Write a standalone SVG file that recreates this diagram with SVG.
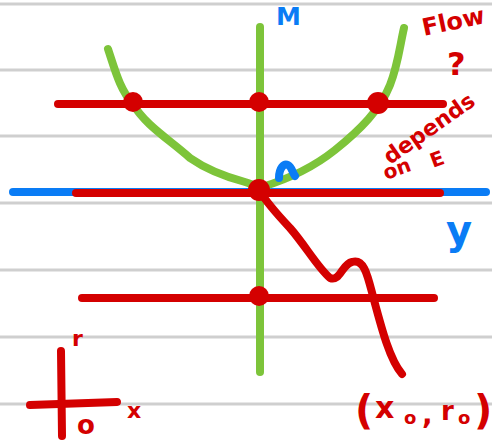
<svg xmlns="http://www.w3.org/2000/svg" width="492" height="447" viewBox="0 0 492 447">
<style>
.grid{stroke:#cfcfcf;stroke-width:3}
.g{stroke:#7dc43a;stroke-width:8;fill:none;stroke-linecap:round;stroke-linejoin:round}
.r{stroke:#d40000;stroke-width:8;fill:none;stroke-linecap:round;stroke-linejoin:round}
.b{stroke:#0a7cf5;stroke-width:8;fill:none;stroke-linecap:round}
.dot{fill:#d40000}
.rt{fill:#d40000;font-family:"DejaVu Sans",sans-serif;font-weight:bold}
.bt{fill:#0a7cf5;font-family:"DejaVu Sans",sans-serif;font-weight:bold}
</style>
<rect width="492" height="447" fill="#fff"/>
<g id="grid">
<line class="grid" x1="0" y1="4" x2="492" y2="4"/>
<line class="grid" x1="0" y1="70" x2="492" y2="70"/>
<line class="grid" x1="0" y1="136" x2="492" y2="136"/>
<line class="grid" x1="0" y1="203" x2="492" y2="203"/>
<line class="grid" x1="0" y1="270" x2="492" y2="270"/>
<line class="grid" x1="0" y1="337" x2="492" y2="337"/>
<line class="grid" x1="0" y1="404" x2="492" y2="404"/>
</g>
<g id="axis-y">
<line class="b" x1="13" y1="192" x2="486" y2="192"/>
<text class="bt" x="446" y="244" font-size="40">y</text>
</g>
<g id="axis-M">
<line class="g" x1="260" y1="27" x2="260" y2="372"/>
<text class="bt" x="276" y="25" font-size="25">M</text>
</g>
<g id="connectors">
<path class="g" d="M108,49 C115,70 120,90 133,104 C145,125 170,140 190,158 C210,172 230,178 245,182 C252,184 257,187 262,187 C285,180 310,170 335,150 C360,130 380,110 390,85 C398,65 400,45 404,28"/>
<line class="r" x1="58" y1="104" x2="443" y2="104"/>
<line class="r" x1="76" y1="193" x2="440" y2="193"/>
<line class="r" x1="82" y1="298" x2="434" y2="298"/>
<path class="r" d="M259,190 C265,200 275,212 290,228 C305,245 318,268 330,278 C340,282 342,264 352,262 C365,258 368,278 374,300 C382,330 390,360 402,374"/>
</g>
<g id="points">
<circle class="dot" cx="133" cy="102" r="10"/>
<circle class="dot" cx="259" cy="102" r="10"/>
<circle class="dot" cx="378" cy="103" r="11"/>
<circle class="dot" cx="259" cy="190" r="11"/>
<circle class="dot" cx="259" cy="296" r="10"/>
</g>
<g id="origin-label">
<path class="b" d="M279,178 C279,168 284,163 288,165 C292,167 292,172 295,176"/>
</g>
<g id="label-flow">
<text class="rt" x="424" y="36" font-size="24" transform="rotate(-12 424 36)">Flow</text>
<text class="rt" x="447" y="75" font-size="32">?</text>
</g>
<g id="label-depends">
<text class="rt" x="390" y="165" font-size="22" transform="rotate(-35 390 165)">depends</text>
<text class="rt" x="386" y="180" font-size="20" transform="rotate(-20 386 180)">on</text>
<text class="rt" x="433" y="168" font-size="20" transform="rotate(-20 433 168)">E</text>
</g>
<g id="label-x0r0">
<text class="rt" x="355" y="424" font-size="40">(</text>
<text class="rt" x="375" y="418" font-size="30">x</text>
<text class="rt" x="404" y="424" font-size="18">o</text>
<text class="rt" x="422" y="424" font-size="28">,</text>
<text class="rt" x="441" y="420" font-size="26">r</text>
<text class="rt" x="458" y="424" font-size="18">o</text>
<text class="rt" x="474" y="424" font-size="40">)</text>
</g>
<g id="small-axes">
<line class="r" x1="61" y1="351" x2="62" y2="436"/>
<line class="r" x1="30" y1="405" x2="117" y2="402"/>
<text class="rt" x="72" y="346" font-size="22">r</text>
<text class="rt" x="127" y="418" font-size="22">x</text>
<text class="rt" x="77" y="434" font-size="26">o</text>
</g>
</svg>
